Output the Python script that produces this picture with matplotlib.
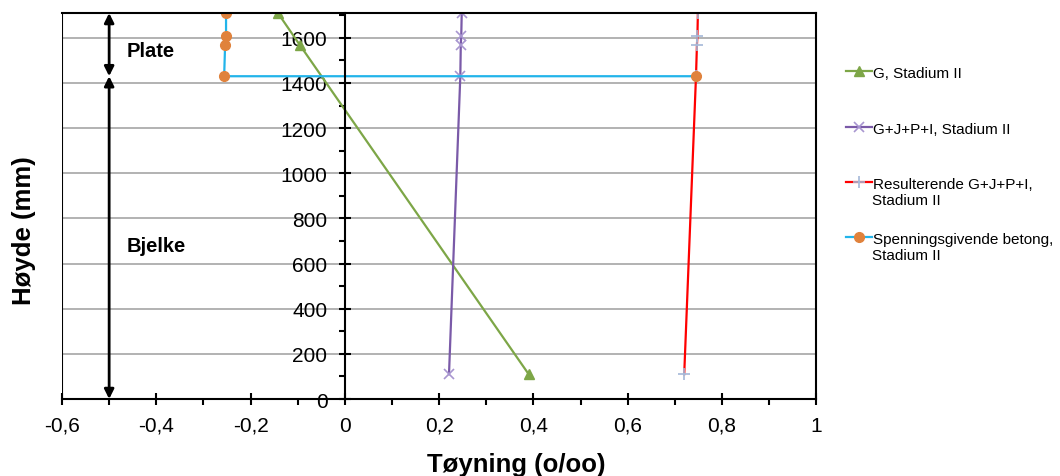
import matplotlib.pyplot as plt
from matplotlib.ticker import MultipleLocator

plt.rcParams['font.family'] = ['Liberation Sans', 'DejaVu Sans']

# Strain (o/oo) vs height (mm)
g_height = [1710, 1570, 110]
g_strain = [-0.142, -0.096, 0.39]

gjpi_height = [1710, 1610, 1570, 1430, 110]
gjpi_strain = [0.248, 0.247, 0.246, 0.245, 0.221]

res_height = [1710, 1610, 1570, 1430, 110]
res_strain = [0.749, 0.748, 0.747, 0.745, 0.72]

spg_height = [1710, 1610, 1570, 1430, 1430]
spg_strain = [-0.252, -0.252, -0.254, -0.256, 0.745]

labels = ["G, Stadium II", "G+J+P+I, Stadium II",
          "Resulterende G+J+P+I,\nStadium II",
          "Spenningsgivende betong,\nStadium II"]

fig = plt.figure(figsize=(10.6, 4.77), dpi=100)
ax = fig.add_axes([0.0585, 0.1614, 0.7115, 0.8092])

lines = []
lines += ax.plot(g_strain, g_height, color='#7DA647', lw=1.6, marker='^', ms=7)
lines += ax.plot(gjpi_strain, gjpi_height, color='#7A5AA8', lw=1.6, marker='x',
                 ms=7, mec='#A896D0', mew=1.2)
lines += ax.plot(res_strain, res_height, color='#FF0000', lw=1.6, marker='+',
                 ms=8, mec='#A4B8D8', mew=1.2)
lines += ax.plot(spg_strain, spg_height, color='#22B4EA', lw=1.6, marker='o',
                 ms=7, mfc='#E0823C', mec='#E0823C')

ax.set_xlim(-0.6, 1.0)
ax.set_ylim(0, 1710)
ax.xaxis.set_minor_locator(MultipleLocator(0.1))
ax.yaxis.set_minor_locator(MultipleLocator(100))
ax.set_yticks(range(0, 1601, 200))
ax.set_xticks([-0.6, -0.4, -0.2, 0, 0.2, 0.4, 0.6, 0.8, 1.0])
ax.set_xticklabels(['-0,6', '-0,4', '-0,2', '0', '0,2', '0,4', '0,6', '0,8', '1'])

ax.grid(axis='y', color='#A6A6A6', lw=1.2)
ax.set_axisbelow(True)

# y axis crosses at x = 0, box drawn around the plot area
ax.spines['left'].set_position(('data', 0))
for s in ax.spines.values():
    s.set_linewidth(1.5)
ax.axvline(-0.6, color='black', lw=1.5)
ax.tick_params(which='major', direction='inout', length=8, width=1.5, labelsize=15)
ax.tick_params(axis='x', which='major', pad=8)
ax.tick_params(axis='y', which='major', pad=8.5)
ax.tick_params(which='minor', direction='out', length=4, width=1.5)

# Plate / Bjelke arrows
arrow = dict(arrowstyle='<|-|>', color='black', lw=2, mutation_scale=14,
             shrinkA=0, shrinkB=0)
ax.annotate('', xy=(-0.5, 1710), xytext=(-0.5, 1430), arrowprops=arrow)
ax.annotate('', xy=(-0.5, 1430), xytext=(-0.5, 0), arrowprops=arrow)
ax.text(-0.462, 1545, 'Plate', fontsize=14.5, fontweight='bold', va='center')
ax.text(-0.462, 680, 'Bjelke', fontsize=14.5, fontweight='bold', va='center')

fig.text(0.487, 0.025, 'Tøyning (o/oo)', fontsize=18.5, fontweight='bold',
         ha='center', va='center')
fig.text(0.023, 0.516, 'Høyde (mm)', rotation=90, fontsize=18.5, fontweight='bold',
         va='center', ha='center')

# legend, one entry per block so the marker sits on the first text line
W, H = fig.get_size_inches() * fig.dpi
entry_px = [72, 128, 183, 238]
for line, lab, c in zip(lines, labels, entry_px):
    first, *rest = lab.split('\n')
    fig.legend([line], [first], loc='upper left',
               bbox_to_anchor=(0.785, 1 - (c - 19) / H), frameon=False,
               fontsize=11, handlelength=1.7, handletextpad=0.1)
    for k, more in enumerate(rest, start=1):
        fig.text(872.5 / W, 1 - (c + 1 + 17 * k) / H, more, fontsize=11, va='center')

fig.savefig('out.png', dpi=100)
